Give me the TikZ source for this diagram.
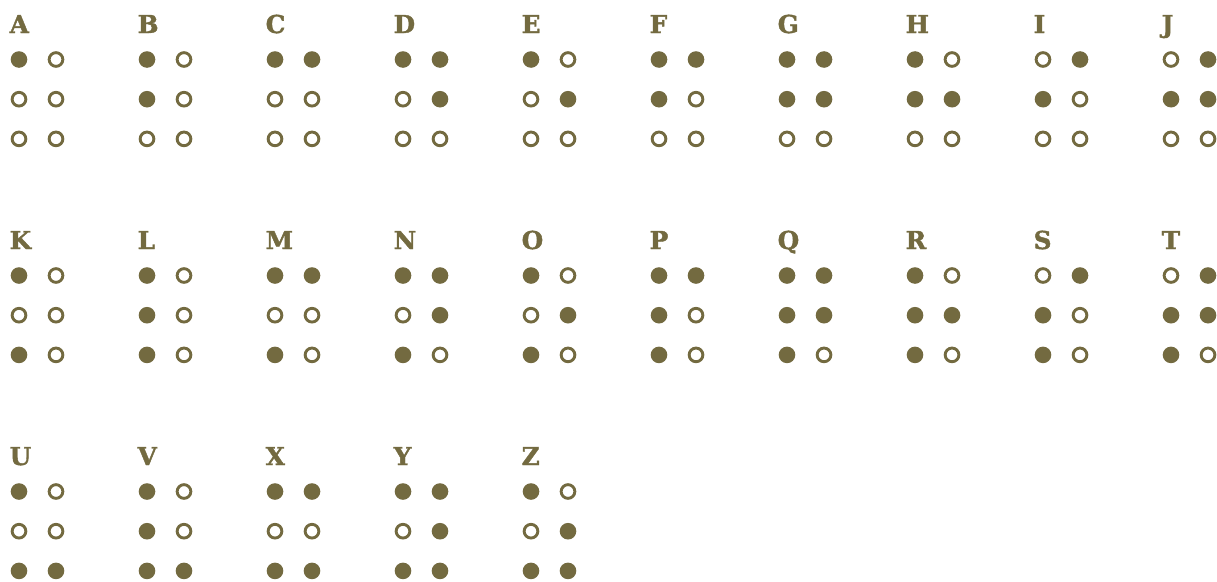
\documentclass[tikz,border=0pt]{standalone}
\usepackage{fontspec}
\newfontfamily\lblfont{DejaVu Serif}[BoldFont={DejaVu Serif Bold},BoldFeatures={FakeBold=1.6}]
\definecolor{olv}{HTML}{736A40}
\begin{document}
\begin{tikzpicture}[x=1pt,y=-1pt,
  fulldot/.style={circle,fill=olv,minimum size=16.6pt,inner sep=0pt},
  opendot/.style={circle,draw=olv,line width=2.9pt,minimum size=13.7pt,inner sep=0pt},
  lettername/.style={anchor=base west,inner sep=0pt,text=olv,font=\lblfont\bfseries\fontsize{24.7}{28}\selectfont}]
\useasboundingbox (0,0) rectangle (1217,581);
\foreach \L/\c/\r/\p in {
  A/0/0/{1,0,0,0,0,0}, B/1/0/{1,1,0,0,0,0}, C/2/0/{1,0,0,1,0,0}, D/3/0/{1,0,0,1,1,0},
  E/4/0/{1,0,0,0,1,0}, F/5/0/{1,1,0,1,0,0}, G/6/0/{1,1,0,1,1,0}, H/7/0/{1,1,0,0,1,0},
  I/8/0/{0,1,0,1,0,0}, J/9/0/{0,1,0,1,1,0},
  K/0/1/{1,0,1,0,0,0}, L/1/1/{1,1,1,0,0,0}, M/2/1/{1,0,1,1,0,0}, N/3/1/{1,0,1,1,1,0},
  O/4/1/{1,0,1,0,1,0}, P/5/1/{1,1,1,1,0,0}, Q/6/1/{1,1,1,1,1,0}, R/7/1/{1,1,1,0,1,0},
  S/8/1/{0,1,1,1,0,0}, T/9/1/{0,1,1,1,1,0},
  U/0/2/{1,0,1,0,0,1}, V/1/2/{1,1,1,0,0,1}, X/2/2/{1,0,1,1,0,1}, Y/3/2/{1,0,1,1,1,1},
  Z/4/2/{1,0,1,0,1,1}}{
  \pgfmathsetmacro\bx{19+128*\c}
  \pgfmathsetmacro\by{59.5+216*\r}
  \node[lettername] (l\L) at (\bx-9.5,\by-26.5) {\L};
  \foreach \v [count=\d] in \p {
    \pgfmathtruncatemacro\cc{int((\d-1)/3)}
    \pgfmathtruncatemacro\rr{mod(\d-1,3)}
    \ifnum\v=1
      \node[fulldot] (\L\d) at (\bx+37*\cc,\by+39.7*\rr) {};
    \else
      \node[opendot] (\L\d) at (\bx+37*\cc,\by+39.7*\rr) {};
    \fi
  }
}
\end{tikzpicture}
\end{document}
